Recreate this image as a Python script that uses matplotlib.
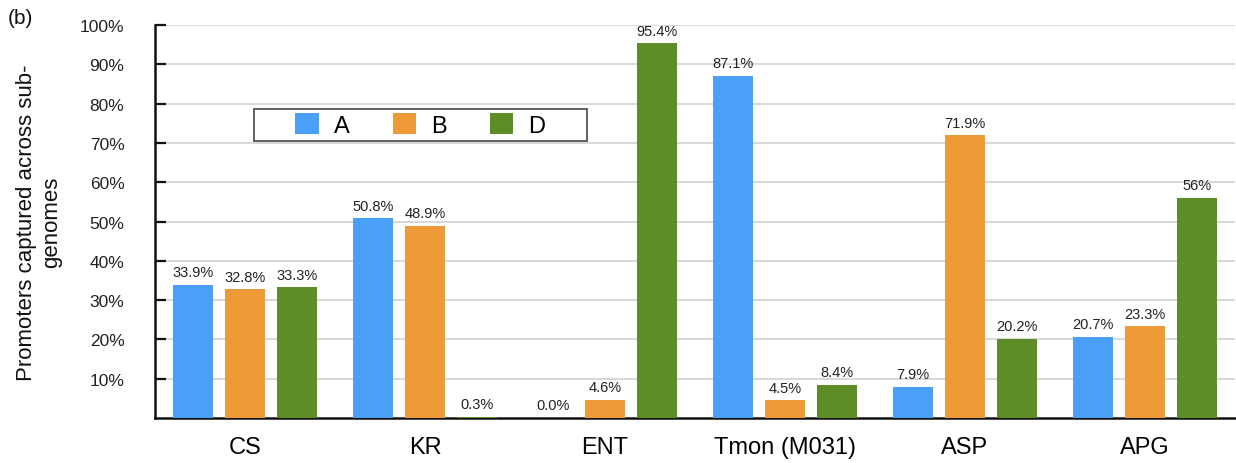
import matplotlib
matplotlib.use("Agg")
import matplotlib.pyplot as plt
from matplotlib.patches import Rectangle
import numpy as np

plt.rcParams['font.family'] = ['Liberation Sans', 'DejaVu Sans']

# Share of promoters captured per sub-genome (%)
categories = ["CS", "KR", "ENT", "Tmon (M031)", "ASP", "APG"]
subgenomes = ["A", "B", "D"]
values_A = [33.9, 50.8, 0.0, 87.1, 7.9, 20.7]
values_B = [32.8, 48.9, 4.6, 4.5, 71.9, 23.3]
values_D = [33.3, 0.3, 95.4, 8.4, 20.2, 56.0]
labels_A = ["33.9%", "50.8%", "0.0%", "87.1%", "7.9%", "20.7%"]
labels_B = ["32.8%", "48.9%", "4.6%", "4.5%", "71.9%", "23.3%"]
labels_D = ["33.3%", "0.3%", "95.4%", "8.4%", "20.2%", "56%"]
yticks = [10, 20, 30, 40, 50, 60, 70, 80, 90, 100]
ytick_labels = ["10%", "20%", "30%", "40%", "50%", "60%", "70%", "80%", "90%", "100%"]

colors = ["#4a9ff9", "#ef9a38", "#5e8d28"]

W, H = 1236, 464
fig = plt.figure(figsize=(W / 100, H / 100), dpi=100)
ax_left, ax_right, ax_top, ax_bot = 155, 1235, 26, 419
ax = fig.add_axes([ax_left / W, 1 - ax_bot / H, (ax_right - ax_left) / W, (ax_bot - ax_top) / H])

x = np.arange(len(categories))
width = 0.222
offset = 0.289
series = [(values_A, labels_A), (values_B, labels_B), (values_D, labels_D)]
for i, ((vals, labs), col) in enumerate(zip(series, colors)):
    pos = x + (i - 1) * offset
    ax.bar(pos, vals, width, color=col, label=subgenomes[i], zorder=3)
    for p, v, t in zip(pos, vals, labs):
        ax.annotate(t, (p, v), xytext=(0, 4), textcoords="offset points",
                    ha="center", va="bottom", fontsize=10.5, color="#222222", zorder=4)

ax.set_xlim(-0.5, 5.5)
ax.set_ylim(0, 100)
ax.set_yticks(yticks)
ax.set_yticklabels(ytick_labels, fontsize=12.5, color="#222222")
ax.set_xticks(x)
ax.set_xticklabels(categories, fontsize=17)
ax.tick_params(axis="x", length=0, pad=13)
ax.tick_params(axis="y", direction="in", length=8, width=1.6, pad=22, color="#111111")
ax.yaxis.grid(True, color="#d2d2d2", linewidth=1.2, zorder=0)
ax.set_axisbelow(True)
for s in ["top", "right"]:
    ax.spines[s].set_visible(False)
for s in ["left", "bottom"]:
    ax.spines[s].set_linewidth(1.8)
    ax.spines[s].set_color("#111111")

# Legend frame and entries
fx0, fx1, fy0, fy1 = 254, 587, 110, 142
ax_w, ax_h = ax_right - ax_left, ax_bot - ax_top
frame = Rectangle(((fx0 - ax_left) / ax_w, (ax_bot - fy1) / ax_h),
                  (fx1 - fx0) / ax_w, (fy1 - fy0) / ax_h,
                  transform=ax.transAxes, facecolor="white", edgecolor="#555555",
                  linewidth=1.3, zorder=5)
ax.add_patch(frame)
leg = ax.legend(loc="center", bbox_to_anchor=(((fx0 + fx1) / 2 - ax_left) / ax_w,
                                              (ax_bot - (fy0 + fy1) / 2) / ax_h),
                ncol=3, frameon=False, fontsize=17, handlelength=1.0, handleheight=1.0,
                handletextpad=0.65, columnspacing=1.8, borderpad=0.2)
leg.set_zorder(6)

fig.text(27 / W, 1 - 222.5 / H, "Promoters captured across sub-", rotation=90,
         ha="center", va="center", fontsize=16, color="#111111")
fig.text(52 / W, 1 - 222.5 / H, "genomes", rotation=90,
         ha="center", va="center", fontsize=16, color="#111111")
fig.text(8 / W, 1 - 18 / H, "(b)", ha="left", va="center", fontsize=15, color="#111111")

fig.savefig("out.png", dpi=100)
